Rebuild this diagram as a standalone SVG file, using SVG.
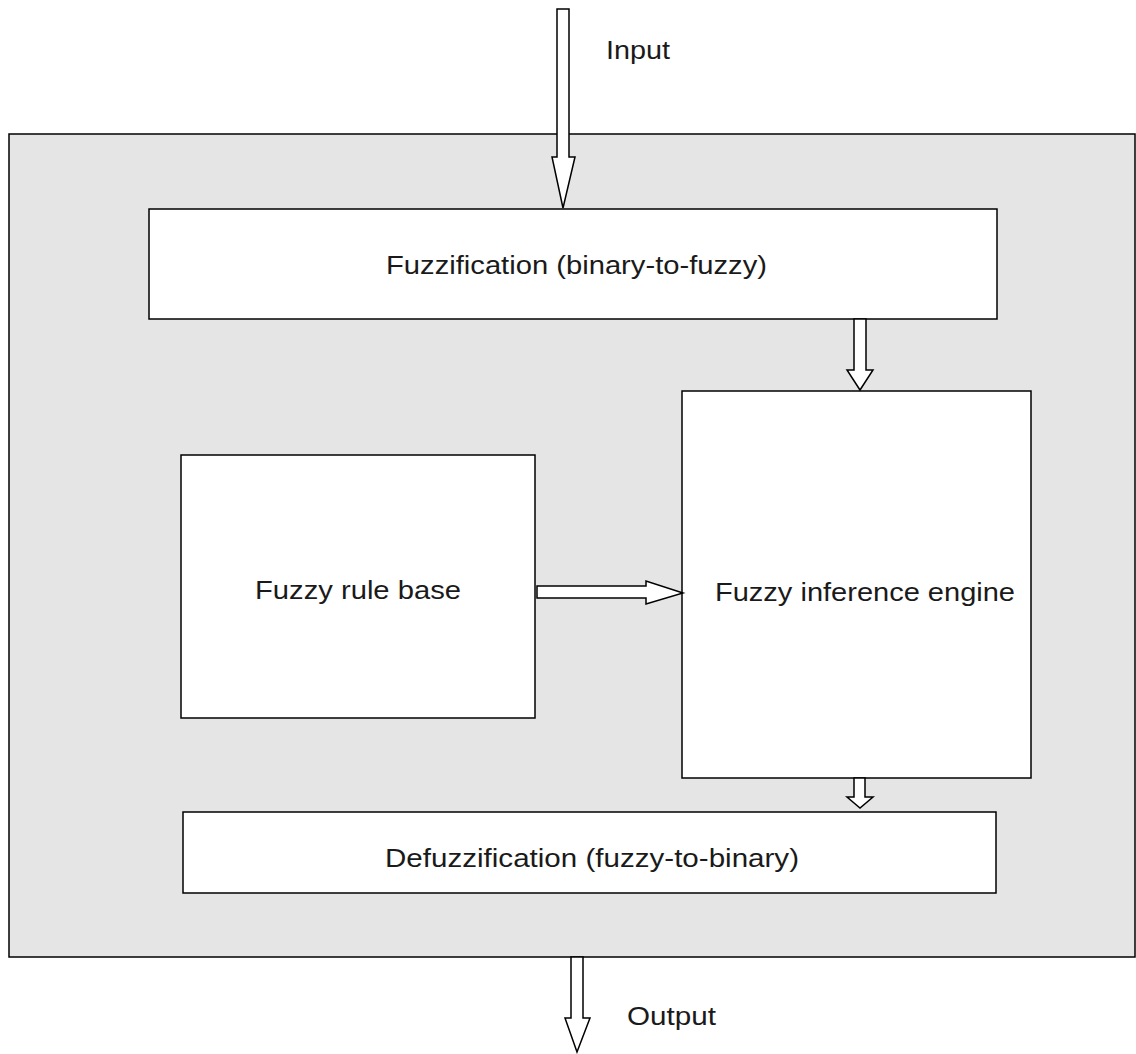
<svg xmlns="http://www.w3.org/2000/svg" width="1136" height="1054" viewBox="0 0 1136 1054">
  <style>
    .box { fill: #ffffff; stroke: #000000; stroke-width: 1.5; }
    .frame { fill: #e5e5e5; stroke: #000000; stroke-width: 1.5; }
    .arrow { fill: #ffffff; stroke: #000000; stroke-width: 1.5; stroke-linejoin: miter; }
    .label { font-family: "Liberation Sans", Arial, sans-serif; font-size: 26px; fill: #1a1a1a; }
  </style>
  <rect width="1136" height="1054" fill="#ffffff"/>

  <!-- outer system frame -->
  <g id="system">
    <rect class="frame" x="9" y="134" width="1126" height="823"/>
  </g>

  <g id="fuzzification">
    <rect class="box" x="149" y="209" width="848" height="110"/>
    <text class="label" x="386" y="274" textLength="381" lengthAdjust="spacingAndGlyphs">Fuzzification (binary-to-fuzzy)</text>
  </g>

  <g id="rule-base">
    <rect class="box" x="181" y="455" width="354" height="263"/>
    <text class="label" x="255" y="599" textLength="206" lengthAdjust="spacingAndGlyphs">Fuzzy rule base</text>
  </g>

  <g id="inference-engine">
    <rect class="box" x="682" y="391" width="349" height="387"/>
    <text class="label" x="715" y="601" textLength="300" lengthAdjust="spacingAndGlyphs">Fuzzy inference engine</text>
  </g>

  <g id="defuzzification">
    <rect class="box" x="183" y="812" width="813" height="81"/>
    <text class="label" x="385" y="867" textLength="414" lengthAdjust="spacingAndGlyphs">Defuzzification (fuzzy-to-binary)</text>
  </g>

  <g id="io-labels">
    <text class="label" x="606" y="59" textLength="64" lengthAdjust="spacingAndGlyphs">Input</text>
    <text class="label" x="627" y="1025" textLength="89" lengthAdjust="spacingAndGlyphs">Output</text>
  </g>

  <!-- block arrows between stages -->
  <g id="connectors">
    <polygon class="arrow" points="557,9 569,9 569,157 575,157 563,208 552,157 557,157"/>
    <polygon class="arrow" points="854,319 866,319 866,370 873,370 860,390 847,370 854,370"/>
    <polygon class="arrow" points="537,586 646,586 646,581 683,593 646,604 646,598 537,598"/>
    <polygon class="arrow" points="854,778 865,778 865,797 873,797 860,808 847,797 854,797"/>
    <polygon class="arrow" points="571,957 583,957 583,1018 590,1018 577,1052 565,1018 571,1018"/>
  </g>
</svg>
